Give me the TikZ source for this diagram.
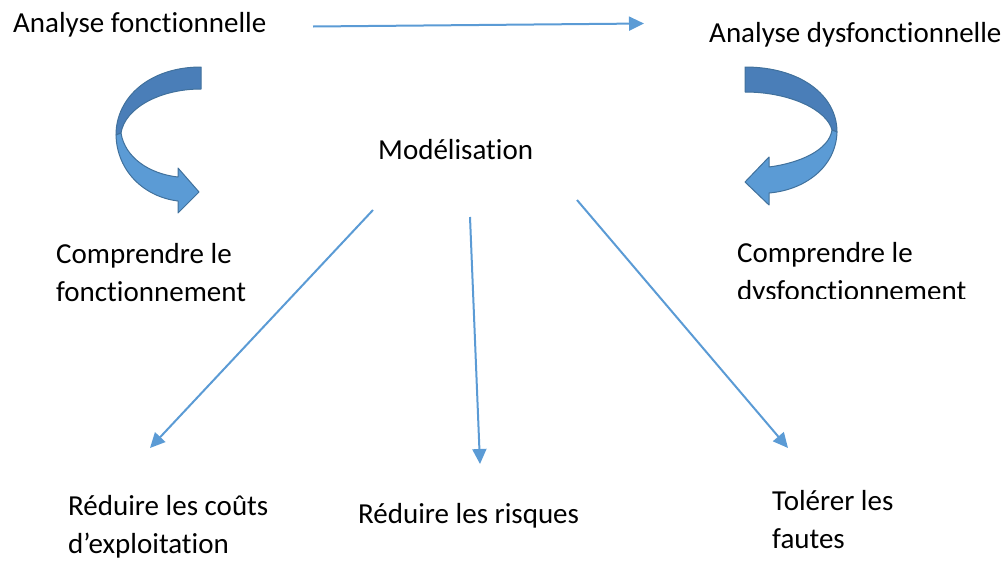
\documentclass[tikz,border=0pt]{standalone}
\usepackage{fontspec}
\setmainfont[Ligatures={NoCommon,NoRare,NoDiscretionary}]{Carlito}
\usetikzlibrary{arrows.meta}
\definecolor{lineblue}{HTML}{5B9BD5}
\definecolor{darkface}{HTML}{4A7EB8}
\definecolor{edgeblue}{HTML}{41719C}
\tikzset{
  lbl/.style={anchor=base west, inner sep=0pt, align=left, font=\fontsize{29}{38}\selectfont},
  conn/.style={draw=lineblue, line width=2pt, -{Triangle[length=15pt,width=14pt]}},
  backface/.style={fill=darkface, draw=edgeblue, line width=1pt, line join=round},
  frontface/.style={fill=lineblue, draw=edgeblue, line width=1pt, line join=round}
}
\begin{document}
\begin{tikzpicture}[x=1pt,y=-1pt]
\useasboundingbox (0,0) rectangle (1008,560);
% texts (base anchor = baseline of last line)
\node[lbl] (af) at (13,32) {Analyse fonctionnelle};
\node[lbl] (ad) at (709,42) {Analyse dysfonctionnelle};
\node[lbl] (mod) at (378,159) {Modélisation};
\node[lbl] (cf) at (56,301) {Comprendre le\\fonctionnement};
\begin{scope}
\clip (0,0) rectangle (1008,298);
\node[lbl] (cd) at (737,300) {Comprendre le\\dysfonctionnement};
\end{scope}
\node[lbl] (rc) at (68,553) {Réduire les coûts\\d’exploitation};
\node[lbl] (rr) at (358,523) {Réduire les risques};
\node[lbl] (tf) at (772,548) {Tolérer les\\fautes};
% connector ends
\coordinate (t1) at (313,26.5);
\coordinate (t2) at (644,23.5);
\coordinate (m1) at (373,210);
\coordinate (c1) at (150,448);
\coordinate (m2) at (470,217);
\coordinate (c2) at (480,464);
\coordinate (m3) at (577,200);
\coordinate (c3) at (788,448);
\draw[conn] (t1) -- (t2);
\draw[conn] (m1) -- (c1);
\draw[conn] (m2) -- (c2);
\draw[conn] (m3) -- (c3);
% left curved arrow
\path[backface] (201,67) .. controls (150,67) and (116,97) .. (116,135)
  -- (121,133) .. controls (125,108) and (160,89) .. (201,89) -- cycle;
\path[frontface] (116,135) .. controls (117,172) and (145,197) .. (178,201)
  -- (178,213) -- (199,192) -- (178,168) -- (178,177)
  .. controls (150,174) and (125,158) .. (121,133) -- cycle;
% right curved arrow
\path[backface] (745,67) .. controls (800,67) and (837,95) .. (837,132)
  -- (832,130) .. controls (827,110) and (790,92) .. (745,92) -- cycle;
\path[frontface] (837,132) .. controls (836,167) and (805,190) .. (769,193)
  -- (769,205) -- (745,182) -- (769,157) -- (769,167)
  .. controls (800,163) and (829,150) .. (832,130) -- cycle;
\end{tikzpicture}
\end{document}
